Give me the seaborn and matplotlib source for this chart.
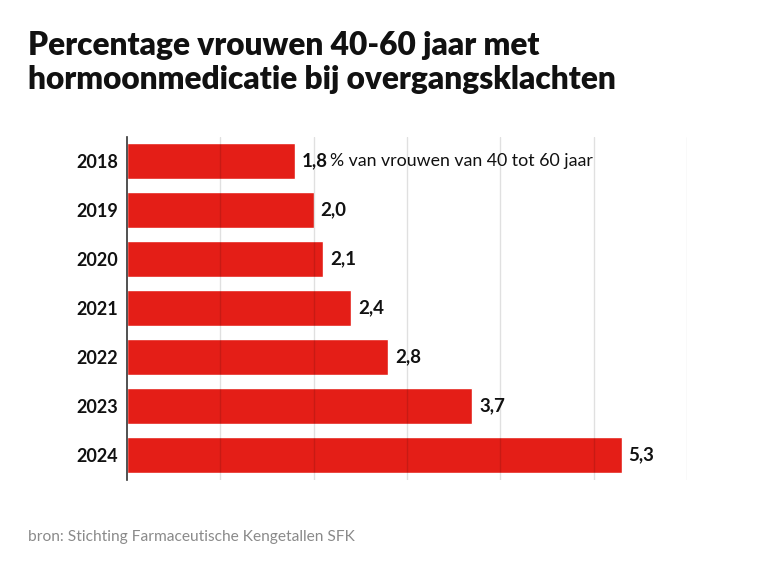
import matplotlib
matplotlib.use("Agg")
import matplotlib.pyplot as plt
import seaborn as sns
import pandas as pd

years = ["2018", "2019", "2020", "2021", "2022", "2023", "2024"]
values = [1.8, 2.0, 2.1, 2.4, 2.8, 3.7, 5.3]
labels = ["1,8", "2,0", "2,1", "2,4", "2,8", "3,7", "5,3"]
note = "% van vrouwen van 40 tot 60 jaar"

df = pd.DataFrame({"jaar": years, "pct": values})

sns.set_theme(style="white")
plt.rcParams["font.family"] = ["Lato", "DejaVu Sans"]

fig = plt.figure(figsize=(7.68, 5.76), dpi=100)
ax = fig.add_axes([0.1654, 0.1675, 0.729, 0.5955])

sns.barplot(data=df, x="pct", y="jaar", color="#E41E17", saturation=1,
            width=0.72, ax=ax, zorder=2)

# grid lines on top of the bars, faint
for gx in range(1, 7):
    ax.axvline(gx, color="#000000", alpha=0.12, lw=1, zorder=3)

ax.set_xlim(0, 6)
ax.set_xlabel("")
ax.set_ylabel("")
ax.set_xticks([])
for side in ["top", "right", "bottom"]:
    ax.spines[side].set_visible(False)
ax.spines["left"].set_color("#333333")
ax.spines["left"].set_linewidth(1.2)
ax.tick_params(axis="y", length=0, pad=6.5)
for t in ax.get_yticklabels():
    t.set_fontweight("bold")
    t.set_fontsize(13)
    t.set_color("#111111")

for i, (v, lab) in enumerate(zip(values, labels)):
    t = ax.annotate(lab, (v, i), xytext=(5, 0), textcoords="offset points",
                    va="center", ha="left", fontsize=13.5, fontweight="bold",
                    color="#111111")
    if i == 0:
        ax.annotate(note, xy=(1, 0.5), xycoords=t, xytext=(1.5, 0),
                    textcoords="offset points", va="center", ha="left",
                    fontsize=12.8, color="#111111")

fig.text(0.036, 0.947, "Percentage vrouwen 40-60 jaar met\nhormoonmedicatie bij overgangsklachten",
         fontsize=22.8, fontweight="heavy", va="top", ha="left",
         color="#111111", linespacing=1.22)
fig.text(0.036, 0.067, "bron: Stichting Farmaceutische Kengetallen SFK",
         fontsize=11.2, color="#8a8a8a", va="center", ha="left")

fig.savefig("out.png", dpi=100)
